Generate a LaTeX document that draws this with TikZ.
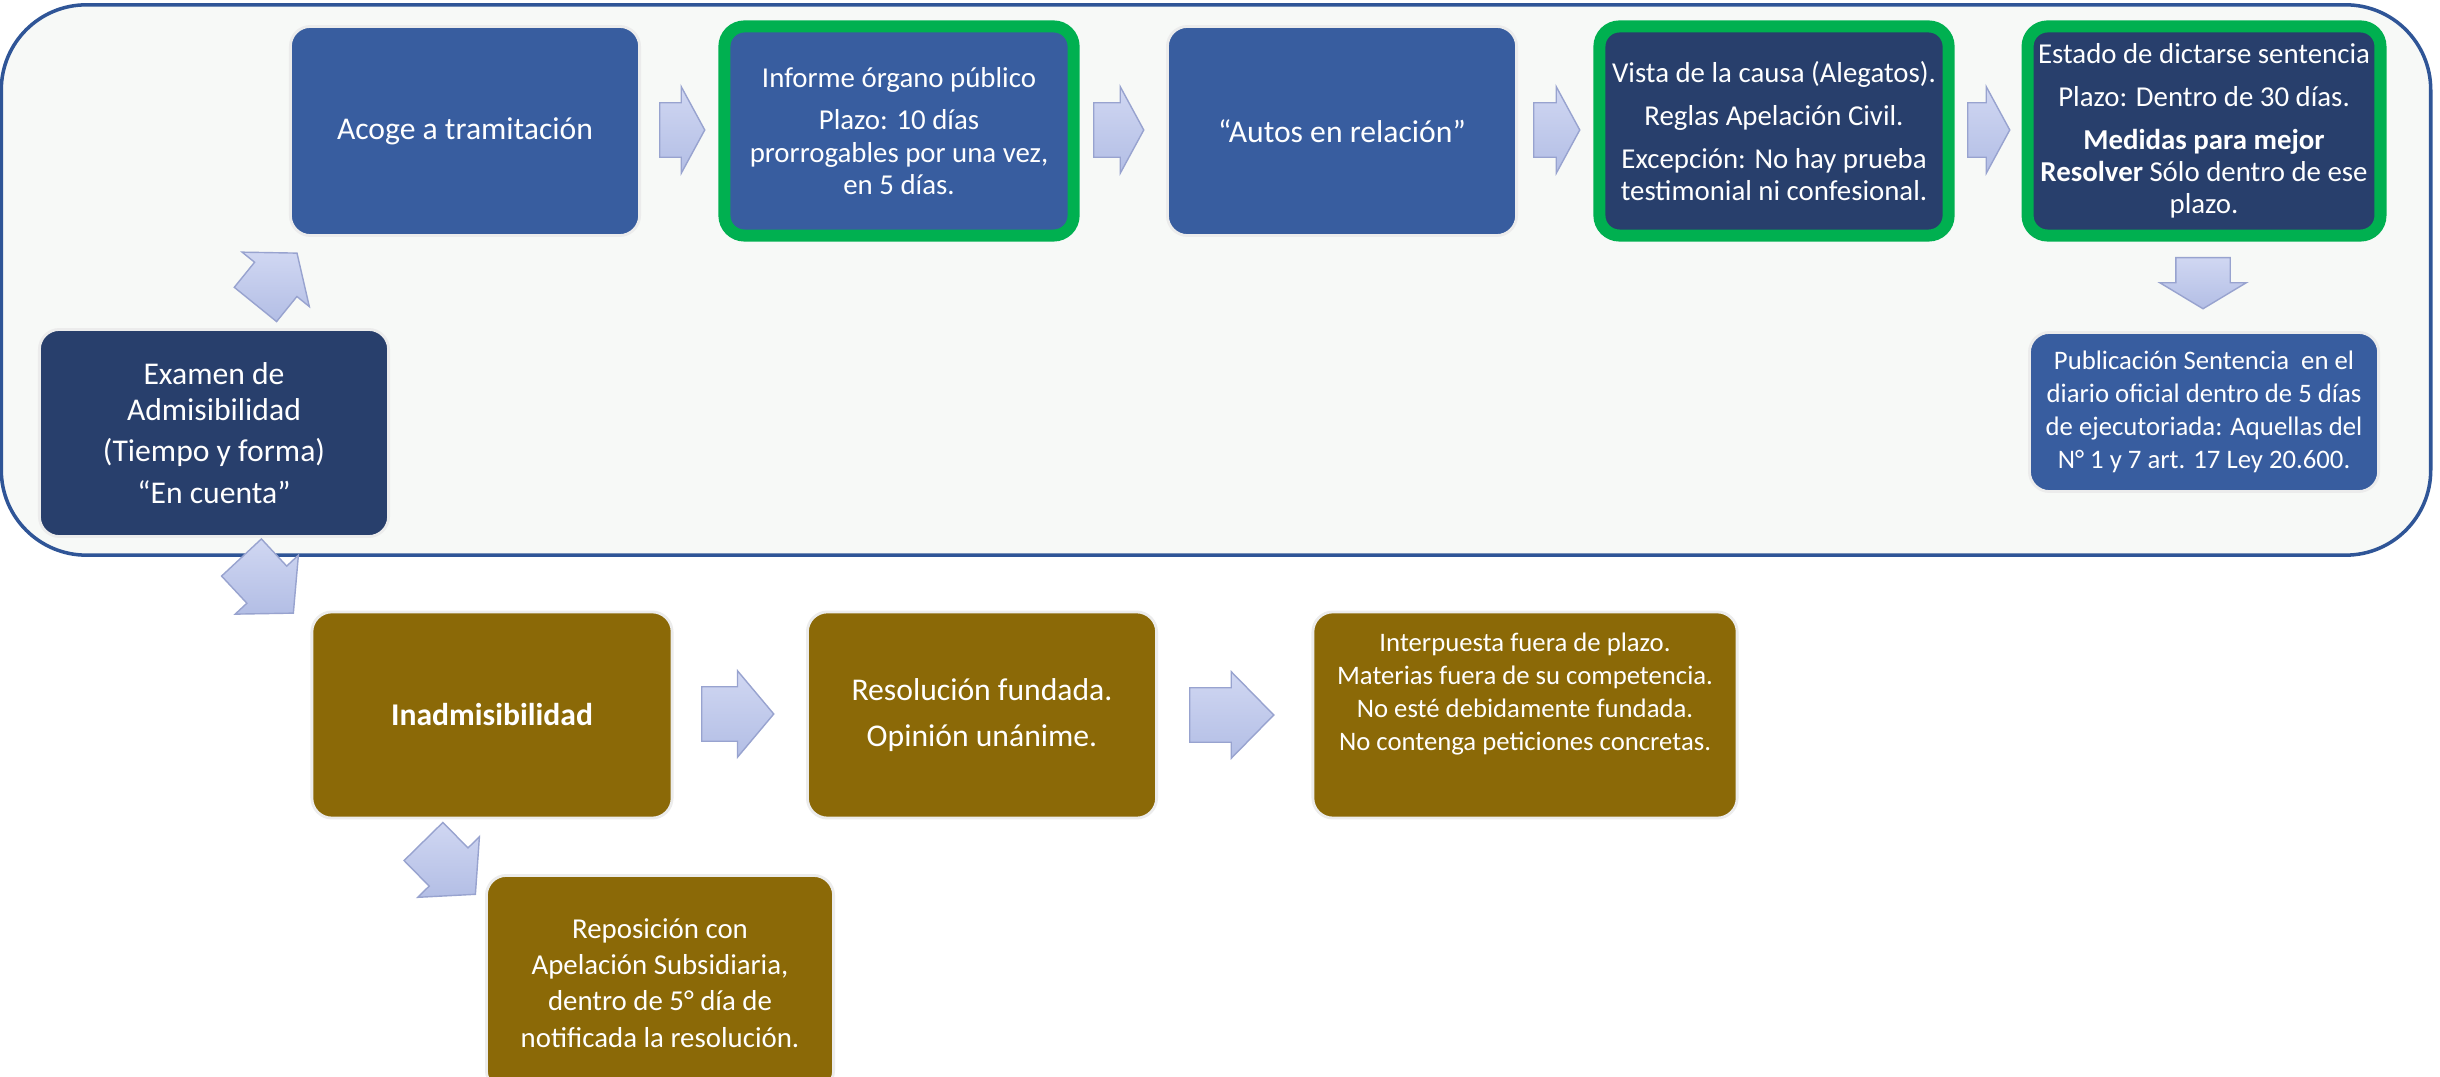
\documentclass[tikz,border=0pt]{standalone}
\usepackage{fontspec}
\setmainfont{Carlito}
\usepackage{xcolor}
\usepackage{tikz}
\usetikzlibrary{shapes, arrows.meta, positioning}

\definecolor{fondo}{HTML}{F7F9F7}
\definecolor{marco}{HTML}{2F5597}
\definecolor{azul}{HTML}{385D9F}
\definecolor{marino}{HTML}{283F6C}
\definecolor{oliva}{HTML}{8B6907}
\definecolor{verde}{HTML}{00B050}
\definecolor{flechaclara}{HTML}{D0D7F2}
\definecolor{flechaoscura}{HTML}{B3BEE5}
\definecolor{flechaborde}{HTML}{98A3CF}

\tikzset{
    caja/.style={rectangle, rounded corners=0.2cm, draw=white!85!gray, line width=0.8pt, text=white, align=center, inner sep=3pt, minimum width=3.49cm, minimum height=2.09cm},
    remarcada/.style={caja, draw=verde, line width=0.12cm},
    bloque/.style={single arrow, anchor=tail, draw=flechaborde, top color=flechaclara, bottom color=flechaoscura, line width=0.4pt, single arrow head extend=0.16cm, inner xsep=0pt, inner ysep=0.265cm},
    grande/.style={font=\fontsize{9}{10.3}\selectfont},
    mediana/.style={font=\fontsize{8.2}{9.2}\selectfont},
    chica/.style={font=\fontsize{7.6}{9.4}\selectfont}
}

\begin{document}
\begin{tikzpicture}[x=0.01cm, y=-0.01cm]
    \useasboundingbox (0,0) rectangle (2440,1077);
    \clip (0,0) rectangle (2440,1077);
    \fill[white] (0,0) rectangle (2440,1077);

    % recuadro del tramite admitido
    \node[draw=marco, fill=fondo, line width=1pt, rounded corners=0.85cm, minimum width=24.28cm, minimum height=5.5cm] (recuadro) at (1216,280) {};

    % fila superior
    \node[caja, fill=azul, grande] (acoge) at (465,131) {Acoge a tramitación};
    \node[remarcada, fill=azul, mediana] (informe) at (899,131) {Informe órgano público\\[3pt]Plazo: 10 días\\prorrogables por una vez,\\en 5 días.};
    \node[caja, fill=azul, grande] (autos) at (1342,131) {“Autos en relación”};
    \node[remarcada, fill=marino, mediana] (vista) at (1774,131) {Vista de la causa (Alegatos).\\[3pt]Reglas Apelación Civil.\\[3pt]Excepción: No hay prueba\\testimonial ni confesional.};
    \node[remarcada, fill=marino, mediana] (estado) at (2204,131) {Estado de dictarse sentencia\\[3pt]Plazo: Dentro de 30 días.\\[3pt]\textbf{Medidas para mejor}\\\textbf{Resolver} Sólo dentro de ese\\plazo.};
    \node[caja, fill=azul, chica, minimum height=1.59cm] (publicacion) at (2204,412) {Publicación Sentencia~ en el\\diario oficial dentro de 5 días\\de ejecutoriada: Aquellas del\\N° 1 y 7 art. 17 Ley 20.600.};
    \node[caja, fill=marino, grande, minimum height=2.07cm] (examen) at (214,433) {Examen de\\Admisibilidad\\[1.5pt](Tiempo y forma)\\[1.5pt]“En cuenta”};

    % fila inferior
    \node[caja, fill=oliva, font=\bfseries\fontsize{9}{10}\selectfont, minimum width=3.6cm, minimum height=2.06cm] (inadmisible) at (492,715) {Inadmisibilidad};
    \node[caja, fill=oliva, grande, minimum height=2.06cm] (resolucion) at (982,715) {Resolución fundada.\\[3pt]Opinión unánime.};
    \node[caja, fill=oliva, chica, minimum width=4.24cm, minimum height=2.06cm] (causales) at (1525,715) {Interpuesta fuera de plazo.\\Materias fuera de su competencia.\\No esté debidamente fundada.\\No contenga peticiones concretas.\\[4pt]};
    \node[caja, fill=oliva, font=\fontsize{8.2}{10.3}\selectfont, minimum width=3.47cm, minimum height=2.15cm] (reposicion) at (660,983) {Reposición con\\Apelación Subsidiaria,\\dentro de 5° día de\\notificada la resolución.};

    % flechas de bloque
    \node[bloque, minimum height=0.45cm, single arrow tip angle=123] (flechaA) at (659,130) {};
    \node[bloque, minimum height=0.5cm, single arrow tip angle=123] (flechaB) at (1093,130) {};
    \node[bloque, minimum height=0.46cm, single arrow tip angle=123] (flechaC) at (1533,130) {};
    \node[bloque, minimum height=0.42cm, single arrow tip angle=123] (flechaD) at (1967,130) {};
    \node[bloque, minimum height=0.51cm, single arrow tip angle=118, rotate=-90] (flechaE) at (2203,257) {};
    \node[bloque, minimum height=0.66cm, single arrow tip angle=104, rotate=51] (flechaF) at (255,305) {};
    \node[bloque, minimum height=0.76cm, single arrow tip angle=96, rotate=-47] (flechaG) at (241,557) {};
    \node[bloque, minimum height=0.72cm, single arrow tip angle=100] (flechaH) at (701,714) {};
    \node[bloque, minimum height=0.84cm, single arrow tip angle=91] (flechaI) at (1189,715) {};
    \node[bloque, minimum height=0.74cm, single arrow tip angle=97, rotate=-45.5] (flechaJ) at (423,841) {};
\end{tikzpicture}
\end{document}
